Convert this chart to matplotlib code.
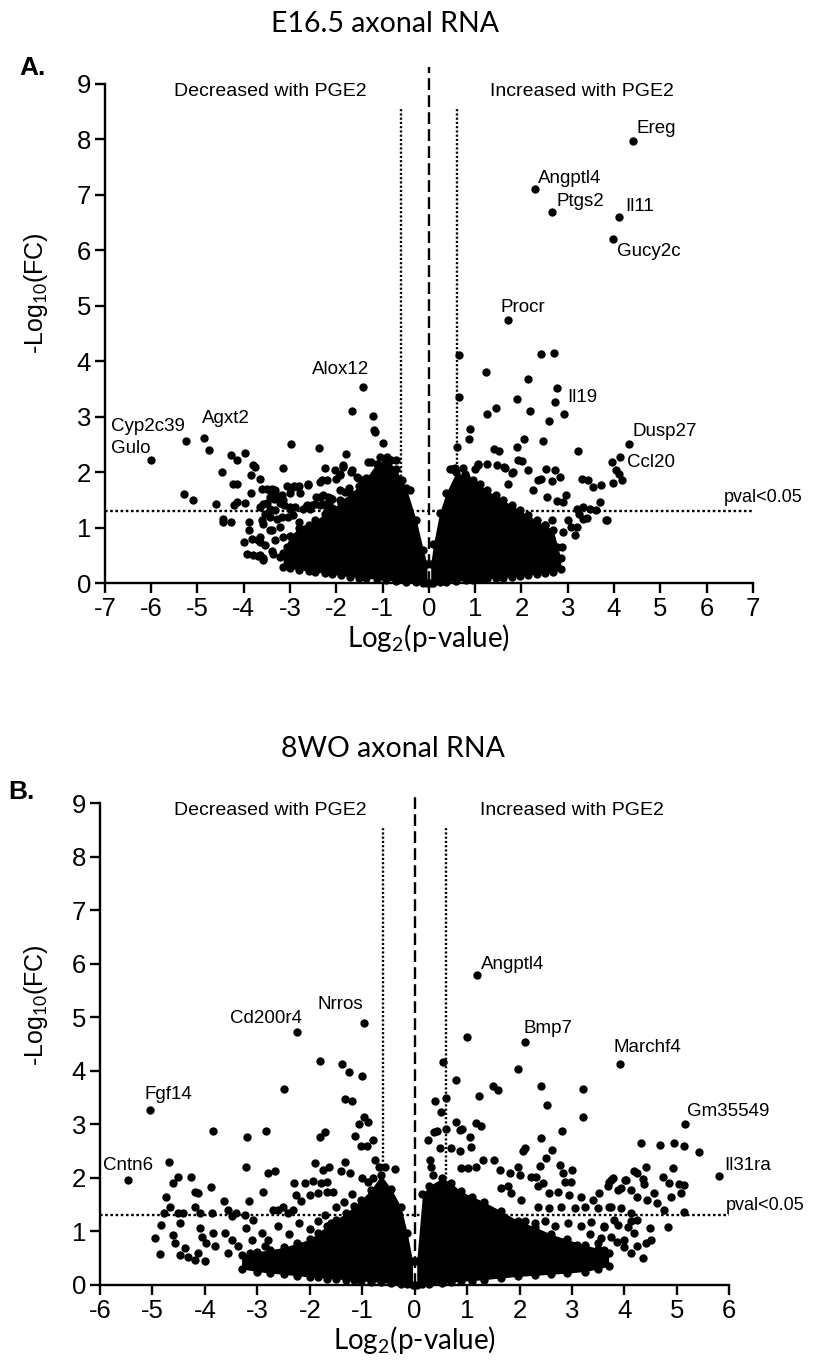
import matplotlib
matplotlib.use("Agg")
import matplotlib.pyplot as plt

# ---------------- panel A: E16.5 axonal RNA ----------------
a_genes = ["Ereg", "Angptl4", "Ptgs2", "Il11", "Gucy2c", "Procr", "Il19",
           "Dusp27", "Ccl20", "Alox12", "Cyp2c39", "Agxt2", "Gulo"]
a_gene_x = [4.41, 2.29, 2.66, 4.11, 3.98, 1.70, 2.76, 4.32, 4.13, -1.43, -5.25, -4.85, -6.0]
a_gene_y = [7.96, 7.10, 6.68, 6.59, 6.20, 4.74, 3.52, 2.50, 2.28, 3.54, 2.56, 2.61, 2.22]

a_x = [-5.3, -5.1, -4.76, -4.59, -4.45, -4.44, -4.27, -4.46, -4.28, -4.15, -3.97, -4.23, -4.14, -4.14,
       -4.20, -3.97, -4.0, -3.94, -3.80, -3.69, -3.58, -3.88, -3.88, -3.84, -3.85, -3.79, -3.76, -3.65,
       -3.83, -3.69, -3.65, -3.61, -3.58, -3.61, -3.50, -3.39, -3.32, -3.25, -3.21, -3.43, -3.46, -3.50,
       -3.29, -3.39, -3.32, -3.39, -3.16, -2.97, -3.07, -2.92, -2.81, -3.0, -2.78, -3.12, -2.99, -2.90,
       -2.94, -2.80, -2.69, -2.61, -2.66, -2.53, -2.38, -2.35, -2.30, -2.25, -2.46, -2.28, -2.15, -2.35,
       -2.14, -2.03, -1.86, -1.79, -2.0, -1.93, -1.66, -1.20, -1.18, -1.17, -0.99, -0.91, -0.70, -1.24,
       -1.06, -1.69, -1.53, -1.72, -1.76,
       -3.65, -3.54, -3.43, -3.33, -3.18, -3.04, -3.0, -2.71, -2.57, -3.58, -3.43, -3.65, -3.54, -3.36,
       -3.65, -3.58, -3.22, -3.15, -3.07, -3.22, -3.0, -2.43, -2.64, -2.35, -2.21, -1.92, -1.71, -1.56,
       -2.03, -3.43, -3.33, -3.18, -3.15, -3.43, -3.35, -2.93, -2.82, -2.61, -2.21, -1.92, -1.85, -1.67,
       -1.56, -1.45, -1.49, -2.28, -2.17, -2.10, -1.92, -1.81, -1.31, -0.81, -0.59, -0.41,
       0.65, 0.65, 0.61, 1.23, 1.26, 1.46, 0.89, 0.87, 0.49, 0.56, 1.91, 2.18, 2.72, 2.92, 2.60, 2.15,
       2.42, 2.70, 2.05, 2.47, 1.91, 1.40, 1.52, 1.92, 2.02, 3.23, 3.95, 4.04, 4.11, 3.30, 3.44, 3.54,
       3.73, 3.97, 4.18, 3.62, 3.82, 3.69, 3.32, 3.48, 3.41, 3.15, 3.19, 2.87, 2.90, 2.54, 2.72, 2.83,
       2.43, 2.65, 2.15, 1.82, 1.64, 1.25, 1.07, 0.74, 2.97, 2.90, 2.76, 2.56, 2.36, 2.25, 3.19, 3.25,
       3.01, 2.51, 2.65, 2.76, 2.61, 3.08, 2.54, 2.29, 0.45, 0.78, 0.99, 1.06, 1.48, 1.62, 1.79, 1.71,
       3.32, 3.85]
a_y = [1.6, 1.5, 2.39, 1.42, 1.16, 1.1, 1.1, 2.01, 2.30, 2.21, 2.35, 1.79, 1.78, 1.46,
       1.40, 1.45, 0.74, 0.53, 0.50, 0.49, 0.46, 1.10, 0.95, 1.62, 1.94, 2.12, 2.10, 1.88,
       0.80, 0.77, 0.74, 1.13, 1.42, 1.70, 1.70, 1.70, 1.63, 1.54, 1.45, 1.33, 1.27, 1.45,
       1.16, 0.95, 0.77, 0.58, 2.07, 2.50, 1.75, 1.75, 1.75, 1.63, 1.63, 1.40, 1.34, 1.37,
       1.22, 1.10, 0.98, 1.78, 1.37, 1.40, 2.43, 1.82, 1.85, 2.07, 1.43, 1.42, 1.46, 1.56,
       1.54, 2.03, 2.12, 2.32, 1.88, 1.96, 3.10, 3.02, 2.76, 2.72, 2.52, 2.28, 2.21, 2.19,
       2.27, 2.0, 1.90, 1.72, 1.48,
       1.37, 1.25, 1.19, 1.31, 1.19, 1.19, 1.37, 1.34, 1.34, 1.07, 0.95, 0.83, 0.68, 0.53,
       0.50, 0.41, 1.01, 0.83, 0.65, 0.47, 0.38, 1.55, 1.40, 1.40, 1.37, 1.49, 1.37, 1.37,
       1.28, 1.67, 1.67, 1.58, 1.49, 1.55, 1.52, 1.73, 1.74, 1.76, 1.85, 1.94, 2.09, 2.03,
       1.91, 1.85, 1.73, 1.58, 1.55, 1.52, 1.67, 1.64, 2.18, 2.21, 1.85, 1.67,
       4.11, 3.35, 2.45, 3.80, 3.05, 3.15, 2.78, 2.60, 2.06, 2.08, 3.31, 3.11, 3.26, 3.05, 2.93, 3.67,
       4.13, 4.15, 2.60, 2.57, 2.46, 2.42, 2.38, 2.22, 2.20, 2.38, 2.18, 2.03, 1.97, 1.87, 1.85, 1.73,
       1.76, 1.80, 1.85, 1.31, 1.13, 1.47, 1.38, 1.34, 1.18, 0.86, 1.01, 0.65, 0.92, 2.06, 2.03, 1.91,
       1.88, 1.84, 2.03, 2.0, 2.08, 2.15, 2.15, 2.08, 1.58, 1.46, 1.48, 1.55, 1.85, 1.67, 1.34, 1.25,
       1.13, 1.04, 1.13, 0.65, 0.41, 1.01, 0.41, 0.25, 2.06, 1.97, 2.06, 2.12, 2.12, 2.09, 1.98, 1.79,
       1.16, 1.13]

# dense cloud outlines (upper and lower edge of the solid mass)
a_left_x = [-3.15, -3.0, -2.8, -2.6, -2.45, -2.25, -2.1, -1.9, -1.7, -1.5, -1.35, -1.13, -0.92,
            -0.71, -0.49, -0.27, -0.12, -0.04]
a_left_hi = [0.55, 0.85, 1.0, 1.05, 1.13, 1.25, 1.35, 1.45, 1.62, 1.75, 1.90, 2.15, 2.25,
             2.05, 1.72, 1.13, 0.60, 0.35]
a_left_lo = [0.30, 0.27, 0.24, 0.22, 0.20, 0.18, 0.16, 0.14, 0.12, 0.10, 0.09, 0.07, 0.05,
             0.04, 0.03, 0.02, 0.01, 0.0]
a_right_x = [0.04, 0.10, 0.23, 0.37, 0.59, 0.80, 0.96, 1.10, 1.25, 1.45, 1.61, 1.80, 1.97, 2.15,
             2.33, 2.50, 2.69, 2.85]
a_right_hi = [0.35, 0.70, 1.26, 1.62, 2.00, 1.92, 1.85, 1.78, 1.67, 1.58, 1.49, 1.40, 1.31, 1.22,
              1.13, 1.05, 0.95, 0.45]
a_right_lo = [0.0, 0.01, 0.02, 0.03, 0.04, 0.05, 0.06, 0.07, 0.08, 0.09, 0.10, 0.12, 0.13, 0.15,
              0.16, 0.18, 0.20, 0.25]

# ---------------- panel B: 8WO axonal RNA ----------------
b_genes = ["Cntn6", "Fgf14", "Cd200r4", "Nrros", "Angptl4", "Bmp7", "Marchf4", "Gm35549", "Il31ra"]
b_gene_x = [-5.46, -5.04, -2.24, -0.97, 1.19, 2.10, 3.92, 5.15, 5.81]
b_gene_y = [1.96, 3.27, 4.72, 4.90, 5.78, 4.53, 4.13, 3.01, 2.04]

b_x = [-3.85, -3.19, -2.84, -2.50, -1.81, -1.38, -1.26, -1.0, -1.33, -1.19, -1.06, -0.97, -0.88, -1.14,
       -1.03, -0.90, -0.79, -1.80, -1.71, -4.68, -4.51, -4.60, -4.27, -3.21, -2.79, -2.67, -3.89, -4.19,
       -4.13, -2.90, -3.16, -4.75, -4.67, -4.78, -4.83, -4.95, -4.86, -4.60, -4.57, -4.38, -4.51, -4.41,
       -4.48, -4.19, -4.10, -4.10, -4.06, -4.13, -4.48, -4.32, -4.19, -4.0, -3.87, -3.84, -3.97, -3.81,
       -3.63, -3.56, -3.49, -3.40, -3.24, -3.08, -3.62, -3.49, -3.56, -3.37, -3.21, -3.11, -3.14, -2.92,
       -2.86, -2.79, -2.70, -2.60, -2.51, -2.41, -2.32, -2.30, -2.10, -1.94, -1.78, -1.68, -2.27, -2.16,
       -2.0, -1.84, -1.68, -1.56, -1.90, -1.75, -1.64, -1.33, -1.40, -1.24, -1.0, -0.89, -0.79, -0.76,
       -0.67, -0.57, -0.38, -2.6, -2.4, -2.2, -2.0, -1.85, -1.7, -1.6, -1.5, -1.35, -1.2,
       0.54, 1.97, 0.79, 1.49, 1.59, 1.22, 2.41, 3.22, 2.53, 3.22, 0.59, 0.39, 0.50, 1.17, 1.27, 0.78,
       0.86, 0.91, 0.43, 0.37, 0.60, 0.25, 1.05, 1.08, 0.86, 0.70, 0.48, 2.81, 2.41, 2.62, 2.10, 2.06,
       2.51, 2.40, 2.78, 3.0, 0.29, 0.32, 0.35, 0.89, 1.02, 1.17, 1.30, 1.52, 1.62, 1.81, 1.97, 2.01,
       2.22, 2.32, 2.35, 2.44, 2.57, 2.73, 2.82, 2.86, 2.98, 2.95, 3.17, 3.40, 3.52, 3.71, 3.78, 3.94,
       4.03, 4.19, 2.35, 2.57, 2.79, 3.05, 3.24, 3.49, 3.71, 3.94, 2.03, 1.84, 1.78, 1.65, 2.10, 2.29,
       2.48, 2.67, 2.92, 3.17, 3.36, 3.62, 3.87, 4.13, 2.6, 2.85, 3.1, 3.35, 3.55, 3.85, 4.0, 1.0,
       4.32, 4.67, 4.95, 5.14, 5.43, 4.41, 4.93, 4.24, 4.35, 4.37, 4.73, 4.86, 5.05, 5.14, 4.01, 3.74,
       3.68, 3.87, 4.13, 4.25, 4.44, 4.57, 4.63, 4.89, 5.08, 4.76, 5.14, 4.84, 4.48, 4.51, 4.41, 4.13,
       4.25, 4.06, 4.19, 4.0, 4.25, 4.13, 4.35, 3.74, 3.81, 3.62, 3.74, 3.49, 3.62, 3.43]
b_y = [2.88, 2.77, 2.87, 3.66, 4.18, 4.13, 3.97, 3.91, 3.48, 3.44, 3.01, 3.13, 3.05, 2.79,
       2.60, 2.60, 2.71, 2.76, 2.85, 2.29, 2.02, 1.90, 2.02, 2.21, 2.10, 2.12, 1.83, 1.74,
       1.71, 1.74, 1.56, 1.64, 1.46, 1.34, 1.12, 0.87, 0.58, 0.93, 0.78, 0.69, 1.34, 1.34,
       1.15, 1.46, 1.34, 1.06, 0.90, 0.59, 0.56, 0.53, 0.47, 0.44, 1.34, 0.97, 0.78, 0.72,
       1.56, 1.40, 1.28, 1.34, 1.31, 1.21, 0.97, 0.84, 0.59, 0.72, 1.06, 0.84, 0.59, 0.97,
       0.72, 0.84, 1.40, 1.40, 1.46, 1.34, 1.40, 1.90, 1.91, 1.94, 1.90, 1.93, 1.68, 1.56,
       1.68, 1.71, 1.74, 1.74, 2.27, 2.15, 2.21, 2.30, 2.12, 2.10, 1.99, 1.92, 1.99, 2.34,
       2.21, 2.21, 2.17, 1.10, 0.95, 1.15, 1.05, 1.20, 1.30, 1.15, 1.45, 1.55, 1.70,
       4.16, 4.03, 3.83, 3.72, 3.64, 3.53, 3.71, 3.66, 3.36, 3.13, 3.49, 3.44, 3.23, 3.03, 2.96, 3.05,
       2.90, 2.91, 2.88, 2.85, 2.92, 2.70, 2.77, 2.57, 2.51, 2.56, 2.56, 2.87, 2.74, 2.52, 2.56, 2.51,
       2.37, 2.22, 2.24, 2.15, 2.34, 2.21, 2.06, 2.18, 2.18, 2.20, 2.34, 2.34, 2.15, 2.09, 2.21, 2.06,
       2.02, 2.02, 1.84, 1.90, 1.71, 1.74, 2.09, 1.93, 1.93, 1.68, 1.65, 1.59, 1.71, 1.93, 1.99, 1.81,
       1.96, 2.12, 1.45, 1.43, 1.46, 1.43, 1.46, 1.43, 1.46, 1.43, 1.59, 1.71, 1.84, 1.81, 1.20, 1.15,
       1.20, 1.10, 1.15, 1.10, 1.18, 1.10, 1.12, 1.20, 0.85, 0.80, 0.75, 0.95, 0.88, 0.80, 0.70, 4.64,
       2.65, 2.62, 2.65, 2.60, 2.48, 2.21, 2.18, 2.10, 1.98, 1.89, 2.02, 1.90, 1.89, 1.87, 1.96, 1.96,
       1.84, 1.78, 1.78, 1.65, 1.59, 1.71, 1.53, 1.65, 1.71, 1.40, 1.36, 1.09, 1.06, 0.84, 0.78, 1.34,
       1.21, 1.09, 0.97, 0.84, 0.72, 0.59, 0.50, 1.46, 1.21, 1.09, 0.90, 0.78, 0.65, 0.59]

b_left_x = [-3.3, -3.0, -2.75, -2.5, -2.25, -2.0, -1.85, -1.67, -1.5, -1.3, -1.15, -1.02, -0.83,
            -0.64, -0.45, -0.26, -0.14, -0.04]
b_left_hi = [0.55, 0.62, 0.66, 0.70, 0.78, 0.85, 0.97, 1.10, 1.22, 1.35, 1.47, 1.59, 1.78,
             2.05, 1.80, 1.46, 0.97, 0.45]
b_left_lo = [0.30, 0.25, 0.22, 0.20, 0.17, 0.15, 0.14, 0.12, 0.11, 0.10, 0.09, 0.08, 0.06,
             0.05, 0.03, 0.02, 0.01, 0.0]
b_right_x = [0.04, 0.15, 0.28, 0.53, 0.70, 0.88, 1.10, 1.33, 1.65, 1.97, 2.3, 2.6, 2.9, 3.24, 3.5, 3.7]
b_right_hi = [0.45, 1.70, 1.85, 2.00, 1.90, 1.75, 1.65, 1.55, 1.38, 1.20, 1.08, 0.95, 0.85, 0.75, 0.68, 0.60]
b_right_lo = [0.0, 0.01, 0.02, 0.04, 0.05, 0.07, 0.08, 0.10, 0.13, 0.16, 0.18, 0.20, 0.22, 0.25, 0.30, 0.35]

# label offsets in pixels (dx, dy) relative to the dot
a_offsets = [(4, 8), (3, 6), (5, 6), (6, 6), (4, -17), (-7, 8), (11, -14),
             (4, 8), (7, -10), (-51, 13), (-75, 10), (-2, 15), (-40, 7)]
b_offsets = [(-25, 10), (-6, 11), (-67, 9), (-46, 14), (4, 6), (-1, 9), (-7, 12), (2, 8), (5, 6)]

SANS = ["Liberation Sans", "DejaVu Sans"]
CAL = ["Lato", "DejaVu Sans"]
MS = 36

plt.rcParams["axes.unicode_minus"] = False
plt.rcParams["mathtext.fontset"] = "custom"
plt.rcParams["mathtext.rm"] = "Lato"


def panel(ax, xlim, top_dash, xs, ys, clouds, gx, gy, genes, offs, pval_xy, dec_x, inc_x):
    for cx, hi, lo in clouds:
        ax.fill_between(cx, lo, hi, color="black", lw=0, zorder=3)
        ax.scatter(cx, hi, s=MS, color="black", lw=0, zorder=3)
        ax.scatter(cx, lo, s=MS, color="black", lw=0, zorder=3, clip_on=False)
    ax.scatter(xs, ys, s=MS, color="black", lw=0, zorder=3, clip_on=False)
    ax.scatter(gx, gy, s=MS, color="black", lw=0, zorder=3, clip_on=False)
    for g, x, y, (dx, dy) in zip(genes, gx, gy, offs):
        ax.annotate(g, (x, y), xytext=(dx, dy), textcoords="offset pixels",
                    fontsize=13.5, family=SANS, ha="left", va="baseline")

    # reference lines
    ax.plot([0, 0], [0, top_dash], color="black", lw=1.7, dashes=(5, 2.2), zorder=2, clip_on=False)
    for vx in (-0.6, 0.6):
        ax.plot([vx, vx], [0, 8.57], color="black", lw=1.7, dashes=(0.9, 0.9), zorder=2)
    ax.plot([xlim[0], xlim[1]], [1.3, 1.3], color="black", lw=1.7, dashes=(1.1, 1.1), zorder=2)
    ax.text(pval_xy[0], pval_xy[1], "pval<0.05", fontsize=13, family=SANS, ha="center",
            va="baseline", clip_on=False)
    ax.text(dec_x, 8.78, "Decreased with PGE2", fontsize=14, family=SANS, ha="center", va="baseline")
    ax.text(inc_x, 8.78, "Increased with PGE2", fontsize=14, family=SANS, ha="center", va="baseline")

    ax.set_xlim(*xlim)
    ax.set_ylim(0, 9)
    ax.set_xticks(range(xlim[0], xlim[1] + 1))
    ax.set_yticks(range(0, 10))
    for s in ("top", "right"):
        ax.spines[s].set_visible(False)
    for s in ("left", "bottom"):
        ax.spines[s].set_linewidth(1.7)
    ax.tick_params(direction="out", length=7, width=1.7, labelsize=18.5, pad=3)
    for lab in ax.get_xticklabels() + ax.get_yticklabels():
        lab.set_family(SANS)
    ax.set_xlabel(r"Log$_2$(p-value)", fontsize=20, family=CAL, labelpad=1)
    ax.set_ylabel(r"-Log$_{10}$(FC)", fontsize=18, family=SANS)
    return ax


fig = plt.figure(figsize=(8.13, 13.69), dpi=100)

ax1 = fig.add_axes([0.129, 0.574, 0.797, 0.365])
panel(ax1, (-7, 7), 9.3,
      a_x, a_y,
      [(a_left_x, a_left_hi, a_left_lo), (a_right_x, a_right_hi, a_right_lo)],
      a_gene_x, a_gene_y, a_genes, a_offsets,
      (7.22, 1.47), -3.43, 3.31)
ax1.yaxis.set_label_coords(-0.085, 0.58)

ax2 = fig.add_axes([0.123, 0.0614, 0.774, 0.352])
panel(ax2, (-6, 6), 9.15,
      b_x, b_y,
      [(b_left_x, b_left_hi, b_left_lo), (b_right_x, b_right_hi, b_right_lo)],
      b_gene_x, b_gene_y, b_genes, b_offsets,
      (6.68, 1.40), -2.76, 3.0)
ax2.yaxis.set_label_coords(-0.08, 0.58)

fig.text(385 / 813, 1 - 32 / 1369, "E16.5 axonal RNA", fontsize=20.5, family=CAL, ha="center", va="baseline")
fig.text(393 / 813, 1 - 757 / 1369, "8WO axonal RNA", fontsize=20.5, family=CAL, ha="center", va="baseline")
fig.text(19 / 813, 1 - 75 / 1369, "A.", fontsize=19, fontweight="bold", family=SANS, va="baseline")
fig.text(8 / 813, 1 - 799 / 1369, "B.", fontsize=19, fontweight="bold", family=SANS, va="baseline")

fig.savefig("out.png", dpi=100)
